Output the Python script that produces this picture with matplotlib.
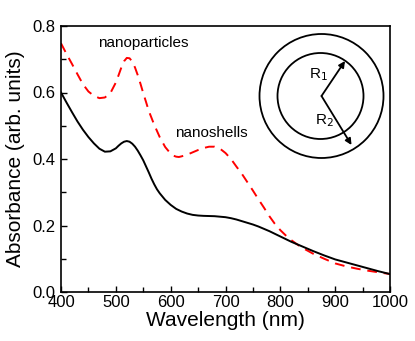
import matplotlib
matplotlib.use("Agg")
import matplotlib.pyplot as plt
from matplotlib.patches import Circle

plt.rcParams['font.family'] = ['Liberation Sans', 'DejaVu Sans']

# nanoshells (solid black)
wl_shell = [400, 410, 420, 430, 440, 450, 460, 470, 480, 490, 500, 505, 510, 515,
            520, 525, 530, 535, 540, 545, 550, 555, 560, 565, 570, 575, 580, 590,
            600, 610, 620, 630, 640, 650, 660, 680, 700, 710, 720, 730, 740, 750,
            760, 770, 780, 790, 800, 820, 840, 860, 880, 900, 920, 940, 960, 980,
            1000]
abs_shell = [0.600, 0.570, 0.541, 0.513, 0.488, 0.466, 0.447, 0.431, 0.422, 0.423,
             0.432, 0.440, 0.447, 0.452, 0.454, 0.452, 0.446, 0.437, 0.425, 0.411,
             0.396, 0.378, 0.360, 0.341, 0.324, 0.309, 0.297, 0.277, 0.262, 0.250,
             0.242, 0.236, 0.232, 0.230, 0.229, 0.228, 0.225, 0.222, 0.218, 0.213,
             0.208, 0.203, 0.197, 0.190, 0.183, 0.175, 0.167, 0.151, 0.137, 0.123,
             0.110, 0.098, 0.089, 0.080, 0.071, 0.062, 0.054]

# nanoparticles (red dashed)
wl_part = [400, 410, 420, 430, 440, 450, 460, 470, 480, 490, 500, 505, 510, 515,
           520, 525, 530, 535, 540, 545, 550, 555, 560, 570, 580, 590, 600, 605,
           610, 615, 620, 630, 640, 650, 660, 670, 680, 690, 700, 710, 720, 730,
           740, 750, 760, 770, 780, 790, 800, 810, 820, 830, 840, 860, 880, 900,
           920, 940, 960, 980, 1000]
abs_part = [0.748, 0.716, 0.686, 0.655, 0.625, 0.603, 0.590, 0.583, 0.585, 0.598,
            0.630, 0.652, 0.675, 0.694, 0.704, 0.703, 0.693, 0.675, 0.652, 0.626,
            0.598, 0.572, 0.545, 0.503, 0.466, 0.436, 0.416, 0.410, 0.407, 0.406,
            0.408, 0.413, 0.420, 0.427, 0.433, 0.437, 0.437, 0.431, 0.418, 0.400,
            0.377, 0.355, 0.330, 0.305, 0.279, 0.254, 0.228, 0.205, 0.186, 0.170,
            0.156, 0.144, 0.133, 0.115, 0.100, 0.086, 0.077, 0.070, 0.064, 0.059,
            0.054]

fig = plt.figure(figsize=(4.15, 3.41), dpi=100)
ax = fig.add_axes([61/415, 1-292/341, 329/415, 266/341])

ax.plot(wl_part, abs_part, color='red', lw=1.4, ls=(0, (5, 3.5)))
ax.plot(wl_shell, abs_shell, color='black', lw=1.4)

ax.set_xlim(400, 1000)
ax.set_ylim(0, 0.8)
ax.set_xticks([400, 500, 600, 700, 800, 900, 1000])
ax.set_xticks(range(450, 1000, 100), minor=True)
ax.set_yticks([0.0, 0.2, 0.4, 0.6, 0.8])
ax.set_yticks([0.1, 0.3, 0.5, 0.7], minor=True)
ax.yaxis.set_major_formatter(matplotlib.ticker.FormatStrFormatter('%.1f'))
ax.tick_params(which='both', direction='in', top=False, right=False,
               labelsize=12, width=1.0)
ax.tick_params(which='major', length=4, pad=2)
ax.tick_params(which='minor', length=3.5)
ax.tick_params(axis='y', pad=4)
for s in ax.spines.values():
    s.set_linewidth(1.2)

ax.set_xlabel('Wavelength (nm)', fontsize=15, labelpad=1)
ax.set_ylabel('Absorbance (arb. units)', fontsize=15, labelpad=5)

ax.text(550, 0.749, 'nanoparticles', fontsize=11, ha='center', va='center')
ax.text(675, 0.478, 'nanoshells', fontsize=11, ha='center', va='center')

# shell sketch
ins = fig.add_axes([251/415, 1-166/341, 140/415, 140/341])
ins.set_xlim(0, 140)
ins.set_ylim(0, 140)
ins.set_aspect('equal')
ins.axis('off')
cx, cy = 70.5, 70
ins.add_patch(Circle((cx, cy), 62, fill=False, lw=1.3, color='black'))
ins.add_patch(Circle((cx - 1, cy), 43, fill=False, lw=1.3, color='black'))
ins.annotate('', xy=(cx + 23.5, cy + 35), xytext=(cx, cy),
             arrowprops=dict(arrowstyle='-|>', lw=1.3, color='black',
                             mutation_scale=9, shrinkA=0, shrinkB=0))
ins.annotate('', xy=(cx + 30, cy - 49), xytext=(cx, cy),
             arrowprops=dict(arrowstyle='-|>', lw=1.3, color='black',
                             mutation_scale=9, shrinkA=0, shrinkB=0))
ins.text(cx - 3.5, cy + 21, r'R$_1$', fontsize=11, ha='center', va='center')
ins.text(cx + 3, cy - 25, r'R$_2$', fontsize=11, ha='center', va='center')

fig.savefig('out.png', dpi=100)
